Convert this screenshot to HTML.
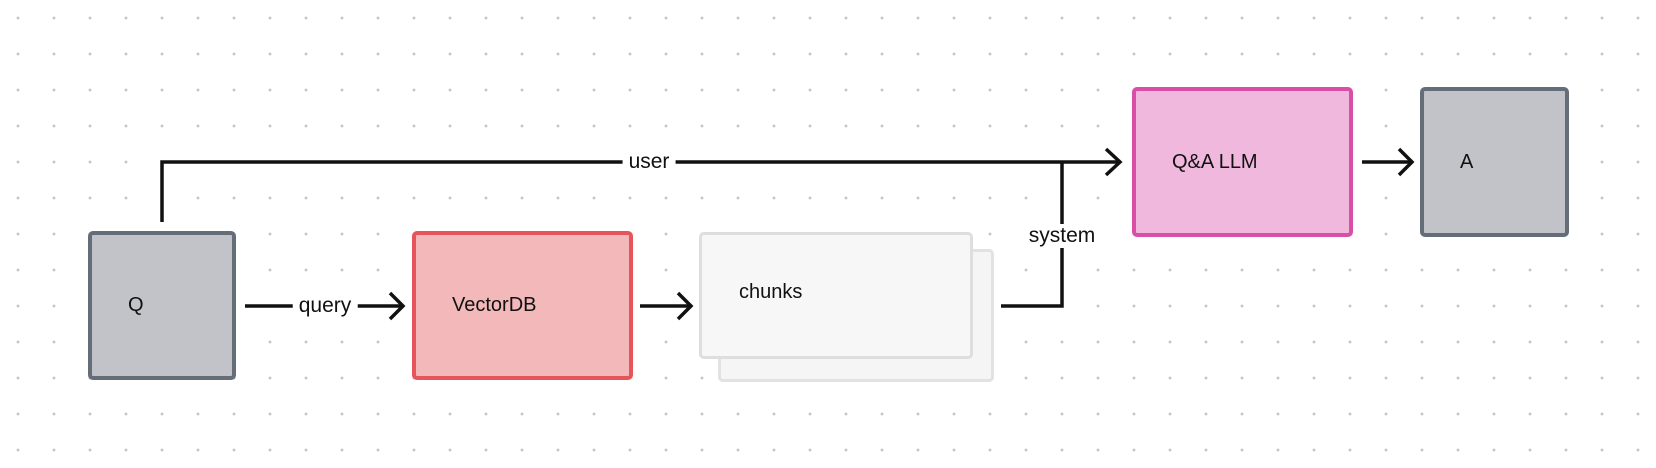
<!DOCTYPE html>
<html><head><style>
html,body{margin:0;padding:0;}
body{width:1656px;height:468px;position:relative;overflow:hidden;background:#fff;
background-image:radial-gradient(circle,#c8c8c8 1.3px,transparent 1.6px);
background-size:36px 36px;background-position:0 0;
font-family:"Liberation Sans","DejaVu Sans",sans-serif;}
.box{position:absolute;box-sizing:border-box;border:4px solid;border-radius:5px;font-size:20px;color:#111;display:flex;align-items:center;}
.lbl{position:absolute;font-size:21px;color:#111;background:#fff;padding:0 6px;line-height:24px;transform:translate(-50%,-50%);}
</style></head><body>
<svg width="1656" height="468" style="position:absolute;left:0;top:0">
<g stroke="#111" stroke-width="3.5" fill="none">
<path d="M162 222 V162 H1118"/>
<path d="M1106 149 L1120 162 L1106 175"/>
<path d="M245 306 H402"/>
<path d="M390 293 L403 306 L390 319"/>
<path d="M640 306 H690"/>
<path d="M678 293 L691 306 L678 319"/>
<path d="M1001 306 H1062 V162"/>
<path d="M1362 162 H1411"/>
<path d="M1399 149 L1412 162 L1399 175"/>
</g>
</svg>
<div class="lbl" style="left:649px;top:162px">user</div>
<div class="lbl" style="left:325px;top:306px">query</div>
<div class="lbl" style="left:1062px;top:236px">system</div>
<div class="box" style="left:88px;top:231px;width:148px;height:149px;background:#c2c3c9;border-color:#646d78;padding-left:36px">Q</div>
<div class="box" style="left:412px;top:231px;width:221px;height:149px;background:#f2b8ba;border-color:#e5555a;padding-left:36px">VectorDB</div>
<div class="box" style="left:718px;top:249px;width:276px;height:133px;background:#f5f5f5;border-color:#e2e2e2;border-width:3px"></div>
<div class="box" style="left:699px;top:232px;width:274px;height:127px;background:#f7f7f7;border-color:#dedede;border-width:3px;padding-left:37px;align-items:flex-start;padding-top:46px">chunks</div>
<div class="box" style="left:1132px;top:87px;width:221px;height:150px;background:#efb8dc;border-color:#d94fa8;padding-left:36px">Q&amp;A LLM</div>
<div class="box" style="left:1420px;top:87px;width:149px;height:150px;background:#c2c3c9;border-color:#646d78;padding-left:36px">A</div>
</body></html>
